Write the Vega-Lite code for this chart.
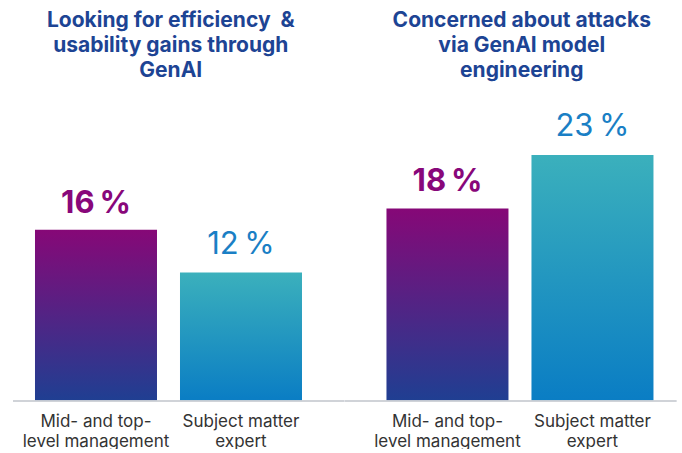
{
  "$schema": "https://vega.github.io/schema/vega-lite/v6.json",
  "padding": {"left": 12, "top": 10, "right": 0, "bottom": 0},
  "bounds": "flush",
  "spacing": 0,
  "datasets": {
    "d": [
      {"topic": "efficiency", "role": "Mid- and top-level management", "value": 16, "label": "16\u2009%"},
      {"topic": "efficiency", "role": "Subject matter expert", "value": 12, "label": "12\u2009%"},
      {"topic": "attacks", "role": "Mid- and top-level management", "value": 18, "label": "18\u2009%"},
      {"topic": "attacks", "role": "Subject matter expert", "value": 23, "label": "23\u2009%"}
    ]
  },
  "data": {"name": "d"},
  "hconcat": [
    {
      "width": 331.5,
      "height": 321,
      "title": {"text": ["Looking for efficiency\u00a0 &", "usability gains through", "GenAI"], "dx": -8, "offset": -1},
      "transform": [{"filter": "datum.topic == 'efficiency'"}],
      "layer": [
        {
          "transform": [{"filter": "datum.role == 'Mid- and top-level management'"}],
          "mark": {"type": "bar", "fill": {"gradient": "linear", "x1": 0, "y1": 0, "x2": 0, "y2": 1, "stops": [{"offset": 0, "color": "#860877"}, {"offset": 1, "color": "#1f3f92"}]}},
          "encoding": {
            "x": {"field": "role", "type": "nominal", "scale": {"domain": ["Mid- and top-level management", "Subject matter expert"], "paddingInner": 0.1586, "paddingOuter": 0.2224, "align": 0.341}},
            "y": {"field": "value", "type": "quantitative", "scale": {"domain": [0, 30], "nice": false}, "axis": null}
          }
        },
        {
          "transform": [{"filter": "datum.role == 'Subject matter expert'"}],
          "mark": {"type": "bar", "fill": {"gradient": "linear", "x1": 0, "y1": 0, "x2": 0, "y2": 1, "stops": [{"offset": 0, "color": "#3bb0bc"}, {"offset": 1, "color": "#0a7dc4"}]}},
          "encoding": {
            "x": {"field": "role", "type": "nominal"},
            "y": {"field": "value", "type": "quantitative"}
          }
        },
        {
          "mark": {"type": "rule", "color": "#cdd0d6", "strokeWidth": 1.5},
          "encoding": {"y": {"datum": 0}}
        },
        {
          "transform": [{"filter": "datum.role == 'Mid- and top-level management'"}],
          "mark": {"type": "text", "fontSize": 31, "fontWeight": "bold", "color": "#88077a", "baseline": "alphabetic", "dy": -17},
          "encoding": {
            "x": {"field": "role", "type": "nominal"},
            "y": {"field": "value", "type": "quantitative"},
            "text": {"field": "label"}
          }
        },
        {
          "transform": [{"filter": "datum.role == 'Subject matter expert'"}],
          "mark": {"type": "text", "fontSize": 31, "fontWeight": "normal", "color": "#1a7fc5", "baseline": "alphabetic", "dy": -19},
          "encoding": {
            "x": {"field": "role", "type": "nominal"},
            "y": {"field": "value", "type": "quantitative"},
            "text": {"field": "label"}
          }
        }
      ]
    },
    {
      "width": 331.5,
      "height": 321,
      "title": {"text": ["Concerned about attacks", "via GenAI model", "engineering"], "dx": 11, "offset": -1},
      "transform": [{"filter": "datum.topic == 'attacks'"}],
      "layer": [
        {
          "transform": [{"filter": "datum.role == 'Mid- and top-level management'"}],
          "mark": {"type": "bar", "fill": {"gradient": "linear", "x1": 0, "y1": 0, "x2": 0, "y2": 1, "stops": [{"offset": 0, "color": "#860877"}, {"offset": 1, "color": "#1f3f92"}]}},
          "encoding": {
            "x": {"field": "role", "type": "nominal", "scale": {"domain": ["Mid- and top-level management", "Subject matter expert"], "paddingInner": 0.1586, "paddingOuter": 0.2224, "align": 0.643}},
            "y": {"field": "value", "type": "quantitative", "scale": {"domain": [0, 30], "nice": false}, "axis": null}
          }
        },
        {
          "transform": [{"filter": "datum.role == 'Subject matter expert'"}],
          "mark": {"type": "bar", "fill": {"gradient": "linear", "x1": 0, "y1": 0, "x2": 0, "y2": 1, "stops": [{"offset": 0, "color": "#3bb0bc"}, {"offset": 1, "color": "#0a7dc4"}]}},
          "encoding": {
            "x": {"field": "role", "type": "nominal"},
            "y": {"field": "value", "type": "quantitative"}
          }
        },
        {
          "mark": {"type": "rule", "color": "#cdd0d6", "strokeWidth": 1.5},
          "encoding": {"y": {"datum": 0}}
        },
        {
          "transform": [{"filter": "datum.role == 'Mid- and top-level management'"}],
          "mark": {"type": "text", "fontSize": 31, "fontWeight": "bold", "color": "#88077a", "baseline": "alphabetic", "dy": -17},
          "encoding": {
            "x": {"field": "role", "type": "nominal"},
            "y": {"field": "value", "type": "quantitative"},
            "text": {"field": "label"}
          }
        },
        {
          "transform": [{"filter": "datum.role == 'Subject matter expert'"}],
          "mark": {"type": "text", "fontSize": 31, "fontWeight": "normal", "color": "#1a7fc5", "baseline": "alphabetic", "dy": -19},
          "encoding": {
            "x": {"field": "role", "type": "nominal"},
            "y": {"field": "value", "type": "quantitative"},
            "text": {"field": "label"}
          }
        }
      ]
    }
  ],
  "config": {
    "font": "Inter",
    "view": {"stroke": null},
    "title": {"fontSize": 21, "fontWeight": "bold", "color": "#1d4494", "lineHeight": 25, "anchor": "middle", "frame": "group"},
    "axisX": {
      "title": null,
      "domain": false,
      "ticks": false,
      "labelAngle": 0,
      "labelFontSize": 17,
      "labelColor": "#333333",
      "labelPadding": 12,
      "labelLineHeight": 20,
      "labelLimit": 0,
      "labelFont": "Inter",
      "labelExpr": "datum.value == 'Mid- and top-level management' ? ['Mid- and top-', 'level management'] : ['Subject matter', 'expert']"
    }
  }
}
